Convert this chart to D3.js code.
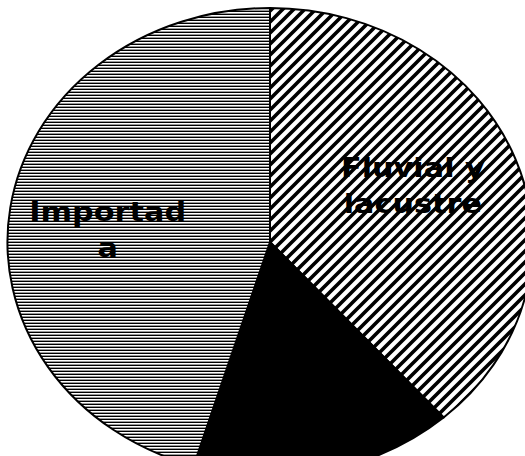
<!DOCTYPE html>
<html>
<head>
<meta charset="utf-8">
<script src="https://cdn.jsdelivr.net/npm/d3@7"></script>
<style>
  html, body { margin: 0; padding: 0; background: #fff; }
  svg { display: block; }
</style>
</head>
<body>
<svg id="chart" width="525" height="456"></svg>
<script>
// Source shares (percent), drawn clockwise from 12 o'clock
const categories = ["Fluvial y lacustre", "Marina", "Importada"];
const shares = [38.5, 16.2, 45.3];
// Label lines drawn inside each slice (empty = no label shown)
const labelLines = [["Fluvial y", "lacustre"], [], ["Importad", "a"]];

const width = 525, height = 456;
const cx = 270, cy = 242;       // pie centre
const radius = 234;              // vertical radius
const stretchX = 1.122;          // horizontal stretch of the pie

// Nudges (screen px) applied to each label from its slice centroid
const labelNudge = [[-4.5, -7], [0, 0], [-6.5, 8]];

const svg = d3.select("#chart");
const defs = svg.append("defs");

// Diagonal hatch (lines rising to the right)
const hw = 11 / stretchX, hh = 11;
defs.append("pattern")
  .attr("id", "hatchDiag")
  .attr("patternUnits", "userSpaceOnUse")
  .attr("width", hw).attr("height", hh)
  .call(p => {
    p.append("rect").attr("width", hw).attr("height", hh).attr("fill", "#fff");
    p.append("path")
      .attr("d", `M${-hw/2},${hh/2} L${hw/2},${-hh/2} M${-hw/2},${1.5*hh} L${1.5*hw},${-hh/2} M${hw/2},${1.5*hh} L${1.5*hw},${hh/2}`)
      .attr("stroke", "#000").attr("stroke-width", 3.4).attr("fill", "none");
  });

// Narrow horizontal stripes
defs.append("pattern")
  .attr("id", "hatchHoriz")
  .attr("patternUnits", "userSpaceOnUse")
  .attr("width", 10).attr("height", 3)
  .call(p => {
    p.append("rect").attr("width", 10).attr("height", 3).attr("fill", "#fff");
    p.append("rect").attr("y", 0).attr("width", 10).attr("height", 1).attr("fill", "#000");
    p.append("rect").attr("y", 2).attr("width", 10).attr("height", 1).attr("fill", "#9a9a9a");
  });

const fills = d3.scaleOrdinal()
  .domain(categories)
  .range(["url(#hatchDiag)", "#000", "url(#hatchHoriz)"]);

const pie = d3.pie().sort(null).value(d => d.value);
const data = categories.map((c, i) => ({ name: c, value: shares[i], lines: labelLines[i], nudge: labelNudge[i] }));
const arcs = pie(data);

const arc = d3.arc().innerRadius(0).outerRadius(radius);
const labelArc = d3.arc().innerRadius(radius * 0.6).outerRadius(radius * 0.6);

const g = svg.append("g")
  .attr("transform", `translate(${cx},${cy}) scale(${stretchX},1)`);

g.selectAll("path.slice")
  .data(arcs)
  .join("path")
  .attr("class", "slice")
  .attr("d", arc)
  .attr("fill", d => fills(d.data.name))
  .attr("stroke", "#000")
  .attr("stroke-width", 2)
  .attr("vector-effect", "non-scaling-stroke");

const lineGap = 36;
const labels = g.selectAll("text.label")
  .data(arcs.filter(d => d.data.lines.length))
  .join("text")
  .attr("class", "label")
  .attr("transform", d => {
    const [x, y] = labelArc.centroid(d);
    return `translate(${x + d.data.nudge[0] / stretchX},${y + d.data.nudge[1]})`;
  })
  .attr("text-anchor", "middle")
  .attr("font-family", "'DejaVu Sans', Verdana, sans-serif")
  .attr("font-weight", "bold")
  .attr("font-size", 27)
  .attr("fill", "#000");

labels.selectAll("tspan")
  .data(d => d.data.lines.map((t, i, a) => ({ t, i, n: a.length })))
  .join("tspan")
  .attr("x", 0)
  .attr("y", d => (d.i - (d.n - 1) / 2) * lineGap + 10)
  .text(d => d.t);
</script>
</body>
</html>
